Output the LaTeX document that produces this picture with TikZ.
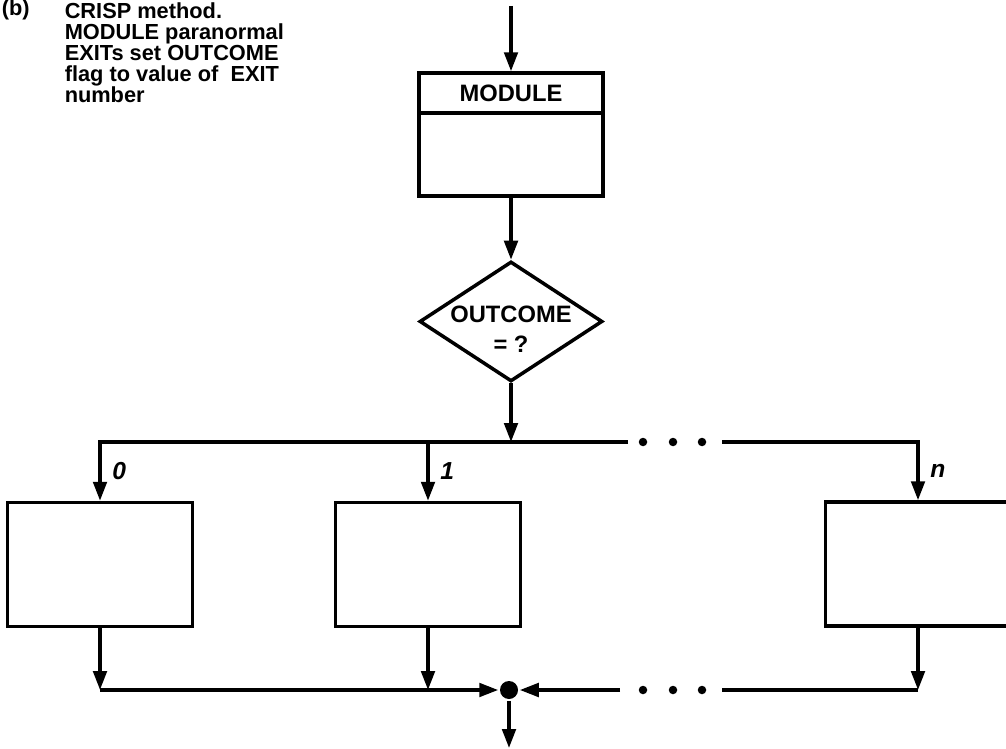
\documentclass[tikz,border=0pt]{standalone}
\usepackage{fontspec}
\setmainfont{Liberation Sans}
\usetikzlibrary{positioning,arrows.meta,shapes.geometric}

\begin{document}
\begin{tikzpicture}[x=0.02cm,y=-0.02cm,line width=2pt,
    font=\bfseries\fontsize{13.5}{15}\selectfont,
    flow/.style={-{Triangle[length=0.38cm,width=0.27cm]}},
    block/.style={draw,minimum width=3.7cm,minimum height=2.48cm},
    decision/.style={draw,diamond,minimum width=3.66cm,minimum height=2.4cm,inner sep=0pt},
    branch/.style={right,inner sep=6pt,font=\bfseries\itshape\fontsize{14}{14}\selectfont},
    dot/.style={circle,fill,inner sep=0pt,minimum size=0.17cm}]
  \useasboundingbox (0,0) rectangle (1006,749);
  \clip (0,0) rectangle (1006,749);

  % heading
  \node[anchor=base west,inner sep=0pt,font=\bfseries\fontsize{12.4}{11.95}\selectfont] (tag) at (0,16) {(b)};
  \node[anchor=north west,align=left,inner sep=0pt,font=\bfseries\fontsize{12.4}{11.95}\selectfont] (caption) at (63,0.5)
    {CRISP method.\\MODULE paranormal\\EXITs set OUTCOME\\flag to value of~ EXIT\\number};

  % module and outcome test
  \coordinate (entry) at (511,6);
  \node[block,minimum width=3.68cm,minimum height=2.46cm] (module) at (511,134.5) {};
  \node[draw,anchor=north,minimum width=3.68cm,minimum height=0.8cm] (modhead) at (module.north) {MODULE};
  \node[decision] (test) [below=1.24cm of module] {};
  \node[align=center,font=\bfseries\fontsize{13.5}{17}\selectfont] (testtext) at ([yshift=-0.16cm]test.center) {OUTCOME\\= ?};

  \coordinate (fork) at (511,442);
  \coordinate (topgapL) at (628,442);
  \coordinate (topgapR) at (722,442);

  % exit branches
  \node[block] (box0) at (100,564.5) {};
  \node[block] (box1) at (428,564.5) {};
  \node[block] (boxn) at (918,564) {};

  \node[circle,fill,minimum size=0.36cm,inner sep=0pt] (merge) at (509,690) {};
  \coordinate (botgapL) at (620,690);
  \coordinate (botgapR) at (722,690);
  \coordinate (exit) at (509,748);

  \foreach \x in {643,673,702} {
    \node[dot] (dt\x) at (\x,442) {};
    \node[dot] (db\x) at (\x,690) {};
  }

  \draw[flow] (entry) -- (module);
  \draw[flow] (module) -- (test);
  \draw[flow] (test) -- (fork);
  \draw[flow] (topgapL) -| node[branch,pos=0.75] {0} (box0);
  \draw[flow] (box1.north |- fork) -- node[branch] {1} (box1);
  \draw[flow] (topgapR) -| node[branch,pos=0.75] {n} (boxn);

  \draw[flow] (box0) -- (box0 |- merge);
  \draw[flow] (box1) -- (box1 |- merge);
  \draw[flow] (boxn) -- (boxn |- merge);
  \draw[flow] (box0.south |- merge) -- (merge);
  \draw[flow] (botgapL) -- (merge);
  \draw (boxn.south |- merge) -- (botgapR);
  \draw[flow] (merge) -- (exit);
\end{tikzpicture}
\end{document}
